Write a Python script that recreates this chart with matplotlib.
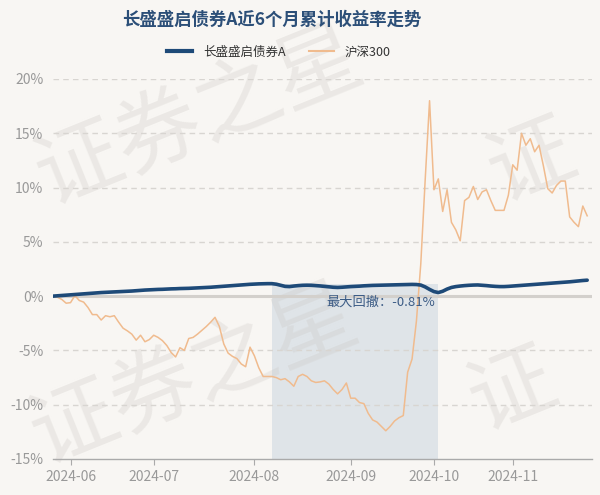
import matplotlib
matplotlib.use("Agg")
import matplotlib.pyplot as plt
from matplotlib.lines import Line2D

plt.rcParams['font.family'] = ['Noto Sans CJK SC', 'DejaVu Sans']

title = "长盛盛启债券A近6个月累计收益率走势"
fund_name = "长盛盛启债券A"
index_name = "沪深300"
drawdown_label = "最大回撤：-0.81%"
watermark = "证券之星"

# month tick labels and the trading-day index where each month starts
month_labels = ["2024-06", "2024-07", "2024-08", "2024-09", "2024-10", "2024-11"]
month_idx = [4, 23, 46, 68, 87, 105]

y_ticks = [-15, -10, -5, 0, 5, 10, 15, 20]
y_labels = ["-15%", "-10%", "-5%", "0%", "5%", "10%", "15%", "20%"]

# cumulative return (%) per trading day
hs300 = [0.0, -0.1, -0.3, -0.65, -0.6, 0.05, -0.4, -0.55, -1.05, -1.7,
         -1.7, -2.2, -1.8, -1.9, -1.8, -2.4, -2.95, -3.2, -3.5, -4.05,
         -3.6, -4.2, -4.0, -3.6, -3.8, -4.1, -4.55, -5.2, -5.6, -4.75,
         -5.0, -3.9, -3.8, -3.5, -3.15, -2.8, -2.4, -1.95, -2.8, -4.4,
         -5.25, -5.55, -5.75, -6.25, -6.5, -4.7, -5.5, -6.6, -7.4, -7.4,
         -7.4, -7.5, -7.7, -7.6, -7.9, -8.3, -7.4, -7.2, -7.4, -7.8,
         -7.95, -7.9, -7.8, -8.1, -8.6, -9.0, -8.6, -8.0, -9.4, -9.4,
         -9.8, -9.9, -10.8, -11.4, -11.6, -12.0, -12.4, -12.0, -11.5, -11.2,
         -11.0, -7.0, -5.8, -2.3, 3.0, 10.7, 18.0, 9.8, 10.8, 7.8,
         9.8, 6.8, 6.1, 5.1, 8.8, 9.1, 10.1, 8.9, 9.6, 9.8,
         8.8, 7.9, 7.9, 7.9, 9.3, 12.1, 11.6, 15.0, 13.9, 14.5,
         13.3, 13.9, 12.0, 9.9, 9.5, 10.2, 10.6, 10.6, 7.3, 6.8,
         6.4, 8.3, 7.4]

fund = [0.0, 0.03, 0.06, 0.09, 0.12, 0.15, 0.18, 0.21, 0.24, 0.27,
        0.3, 0.33, 0.35, 0.37, 0.39, 0.41, 0.43, 0.45, 0.47, 0.5,
        0.53, 0.56, 0.58, 0.6, 0.62, 0.63, 0.65, 0.67, 0.68, 0.7,
        0.71, 0.72, 0.74, 0.76, 0.78, 0.8, 0.82, 0.85, 0.88, 0.91,
        0.94, 0.97, 1.0, 1.03, 1.06, 1.09, 1.11, 1.13, 1.14, 1.15,
        1.15, 1.1, 1.0, 0.9, 0.88, 0.93, 0.97, 1.0, 1.01, 1.0,
        0.97, 0.94, 0.9, 0.86, 0.82, 0.8, 0.82, 0.85, 0.88, 0.9,
        0.92, 0.95, 0.97, 0.99, 1.0, 1.01, 1.02, 1.03, 1.04, 1.05,
        1.06, 1.07, 1.08, 1.07, 1.02, 0.85, 0.62, 0.42, 0.33, 0.45,
        0.65, 0.8, 0.88, 0.93, 0.97, 1.0, 1.02, 1.03, 1.0, 0.97,
        0.93, 0.9, 0.88, 0.88, 0.9, 0.93, 0.96, 0.99, 1.02, 1.05,
        1.08, 1.11, 1.14, 1.17, 1.2, 1.23, 1.26, 1.29, 1.32, 1.36,
        1.4, 1.44, 1.47]

# max drawdown period (peak -> trough)
dd_start, dd_end = 50, 88

bg = '#f8f6f3'
navy = '#1e4a78'
orange = '#f0bb8e'

fig = plt.figure(figsize=(6, 4.95), dpi=100, facecolor=bg)
ax = fig.add_axes([53 / 600, 1 - 459 / 495, 539 / 600, 380 / 495])
ax.set_facecolor(bg)

x = list(range(len(hs300)))

# drawdown box: from the axis floor up to the peak value
ax.fill_between([dd_start, dd_end], -15, fund[dd_start], color='#dfe4e8',
                lw=0, zorder=0.5)

# faint watermark
marks = [(watermark, 200, 118), (watermark, 195, 377),
         (watermark[0], 513, 392), (watermark[0], 532, 163)]
for txt, cx, cy in marks:
    ax.text(cx / 600, 1 - cy / 495, txt, transform=fig.transFigure,
            fontsize=62, color='#c9c5c0', alpha=0.28, rotation=22,
            ha='center', va='center', clip_on=False, zorder=0.8)

for yt in y_ticks[1:]:
    if yt == 0:
        continue
    ax.axhline(yt, color='#d8d5d1', lw=1, ls=(0, (4, 3)), zorder=1)
ax.axhline(0, color='#d3d0cc', lw=2.2, zorder=1.2)

ax.plot(x, hs300, color=orange, lw=1.1, zorder=3)
ax.plot(x, fund, color=navy, lw=2.6, zorder=4, solid_capstyle='round')

ax.text(dd_end - 0.7, -0.55, drawdown_label, ha='right', va='center',
        fontsize=9.5, color='#3b5b85', zorder=5)

ax.set_xlim(0, 123.1)
ax.set_ylim(-15, 20)
ax.set_yticks(y_ticks)
ax.set_yticklabels(y_labels)
ax.set_xticks(month_idx)
ax.set_xticklabels(month_labels)

for s in ['top', 'right', 'left']:
    ax.spines[s].set_visible(False)
ax.spines['bottom'].set_color('#aaaaaa')
ax.spines['bottom'].set_linewidth(1)
ax.tick_params(axis='y', length=0, pad=7, labelsize=10, labelcolor='#999999')
ax.tick_params(axis='x', length=4, color='#aaaaaa', pad=4, labelsize=10,
               labelcolor='#999999')

fig.text(272 / 600, 1 - 20 / 495, title, ha='center', va='center',
         fontsize=12.5, fontweight='bold', color='#2c4f78')

handles = [Line2D([], [], color=navy, lw=3),
           Line2D([], [], color=orange, lw=1.5)]
fig.legend(handles, [fund_name, index_name], loc='center', ncol=2,
           bbox_to_anchor=(279 / 600, 1 - 52 / 495), frameon=False,
           fontsize=9, handlelength=2.0, columnspacing=1.8, handletextpad=0.9,
           labelcolor='#333333')

fig.savefig('out.png', dpi=100, facecolor=bg)
